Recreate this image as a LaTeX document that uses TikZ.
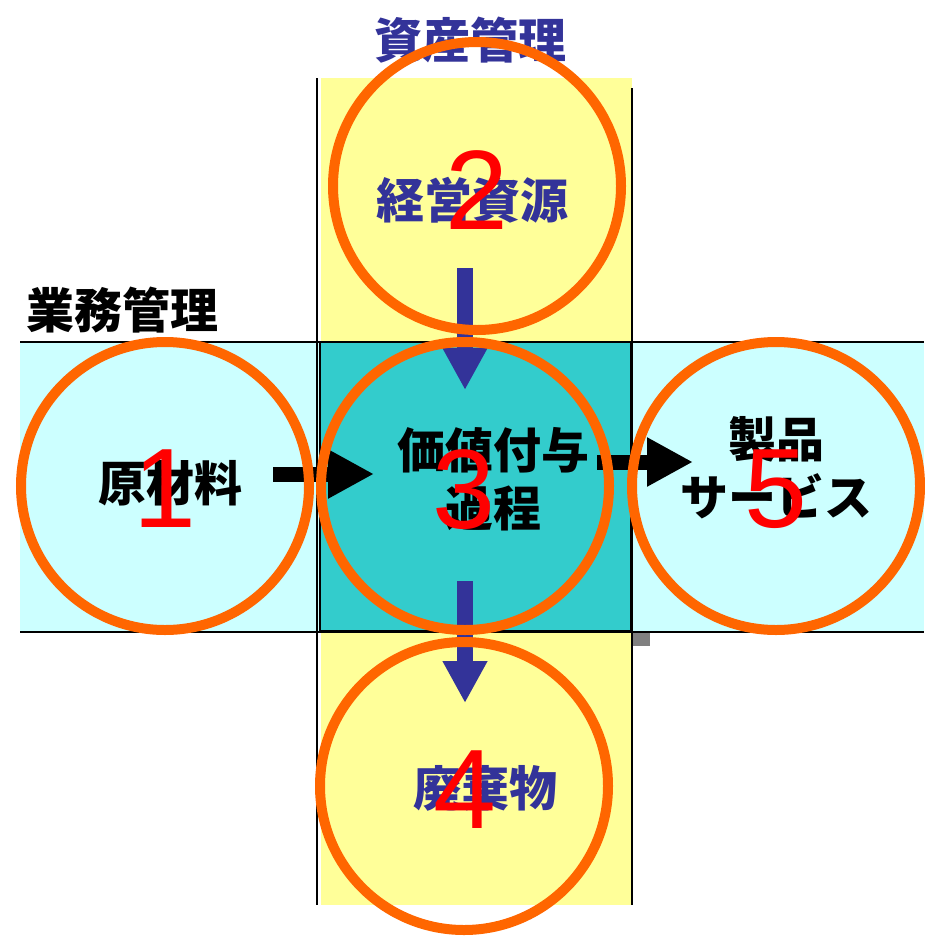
\documentclass[tikz,border=0pt]{standalone}
\usepackage{fontspec}
\setmainfont{Liberation Sans}
\newfontfamily\jpfont{Noto Sans CJK JP}[BoldFont={Noto Sans CJK JP Black}]
\usetikzlibrary{arrows.meta}
\definecolor{ylw}{HTML}{FFFF99}
\definecolor{lcyan}{HTML}{CCFFFF}
\definecolor{teal2}{HTML}{33CCCC}
\definecolor{navy2}{HTML}{333399}
\definecolor{orng}{HTML}{FF6600}
\definecolor{red2}{HTML}{FF0000}
\definecolor{gry}{HTML}{808080}
\tikzset{
  ring/.style={circle, draw=orng, line width=10pt, minimum size=288pt, inner sep=0pt},
  jlabel/.style={font=\jpfont\bfseries\fontsize{48}{58}\selectfont, align=center, inner sep=0pt},
  numlabel/.style={font=\fontsize{113}{113}\selectfont, text=red2, inner sep=0pt},
  bandline/.style={line width=1.5pt, black},
  bluearrow/.style={draw=navy2, line width=16pt, -{Triangle[length=42pt,width=42pt]}, navy2},
  blackarrow/.style={draw=black, line width=15pt, -{Triangle[length=46pt,width=46pt]}}
}
\begin{document}
\begin{tikzpicture}[x=1pt,y=-1pt]
\useasboundingbox (0,0) rectangle (924,937);
% bands
\fill[ylw] (321,78) rectangle (632,342);
\fill[ylw] (321,632) rectangle (632,905);
\fill[lcyan] (20,342) rectangle (924,632);
\filldraw[fill=teal2, draw=black, line width=2pt] (320,342) rectangle (631,631);
\draw[bandline] (20,342) -- (924,342);
\draw[bandline] (20,632) -- (924,632);
\draw[bandline] (317,78) -- (317,905);
\draw[bandline] (632,88) -- (632,905);
\fill[gry] (633,633) rectangle (650,646);
% headings
\node[jlabel, text=navy2] (h1) at (470,40) {資産管理};
\node[jlabel, text=black] (h2) at (123,310) {業務管理};
% labels
\node[jlabel, text=navy2] (t2) at (472,200) {経営資源};
\node[jlabel, text=black] (t1) at (170,483) {原材料};
\node[jlabel, text=black] (t3) at (493,479) {価値付与\\過程};
\node[jlabel, text=black] (t5) at (776,468) {製品\\サービス};
\node[jlabel, text=navy2] (t4) at (485,788) {廃棄物};
% arrow ends
\coordinate (a2s) at (465,268);
\coordinate (a2e) at (465,390);
\coordinate (a4s) at (465,581);
\coordinate (a4e) at (465,703);
\coordinate (a1s) at (273,474);
\coordinate (a1e) at (374,474);
\coordinate (a5s) at (597,462);
\coordinate (a5e) at (693,462);
\draw[bluearrow] (a2s) -- (a2e);
\draw[bluearrow] (a4s) -- (a4e);
\draw[blackarrow] (a1s) -- (a1e);
\draw[blackarrow] (a5s) -- (a5e);
% rings
\node[ring] (c1) at (165,486) {};
\node[ring] (c2) at (477,186) {};
\node[ring] (c3) at (465,486) {};
\node[ring] (c4) at (464,786) {};
\node[ring] (c5) at (776,486) {};
% numbers
\node[numlabel] (n1) at (165,489) {1};
\node[numlabel] (n2) at (477,190) {2};
\node[numlabel] (n3) at (464,490) {3};
\node[numlabel] (n4) at (465,790) {4};
\node[numlabel] (n5) at (776,489) {5};
\end{tikzpicture}
\end{document}
